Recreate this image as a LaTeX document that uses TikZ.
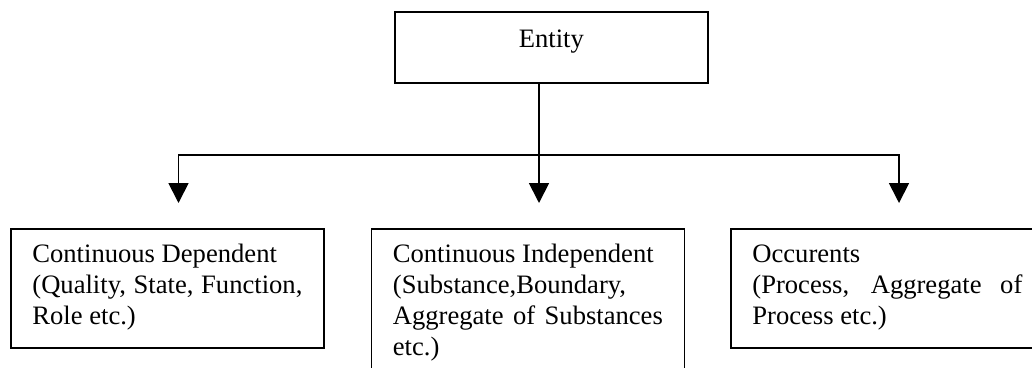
\documentclass[tikz,border=0pt]{standalone}
\usepackage{fontspec}
\setmainfont{Liberation Serif}
\usetikzlibrary{arrows.meta}
\begin{document}
\begin{tikzpicture}[x=1pt,y=-1pt,
  boxline/.style={draw=black, line width=1.8pt},
  topbox/.style={boxline, rectangle, inner sep=0pt, minimum width=313pt,
    text height=36pt, text depth=35pt, font=\fontsize{26.6}{31}\selectfont},
  leafbox/.style={boxline, rectangle, inner ysep=0pt, inner xsep=21.5pt,
    text width=270pt, align=justify, text height=34pt,
    font=\fontsize{26.6}{31}\selectfont},
  conn/.style={draw=black, line width=1.8pt},
  arr/.style={conn, -{Triangle[length=20pt,width=20pt]}}]
\useasboundingbox (0,0) rectangle (1032,367);
\clip (0,0) rectangle (1032,367);
\fill[white] (0,0) rectangle (1032,367);

\node[topbox, anchor=north west] (entity) at (394,11) {Entity};

\node[leafbox, text depth=85pt, anchor=north west] (dep) at (10,228)
  {Continuous Dependent\newline (Quality, State, Function,\linebreak Role etc.)};
\node[leafbox, text depth=130pt, anchor=north west] (indep) at (370.5,228)
  {Continuous Independent\newline (Substance,Boundary,\newline Aggregate of Substances\linebreak etc.)};
\node[leafbox, text depth=85pt, anchor=north west] (occ) at (730,228)
  {Occurents\newline (Process, Aggregate of\linebreak Process etc.)};

\coordinate (hub) at (539,155);
\coordinate (t1) at (178.5,203);
\coordinate (t2) at (539,203);
\coordinate (t3) at (899,203);

\draw[conn] (entity.south -| hub) -- (hub);
\draw[arr] (hub) -| (t1);
\draw[arr] (hub) -- (t2);
\draw[arr] (hub) -| (t3);
\end{tikzpicture}
\end{document}
